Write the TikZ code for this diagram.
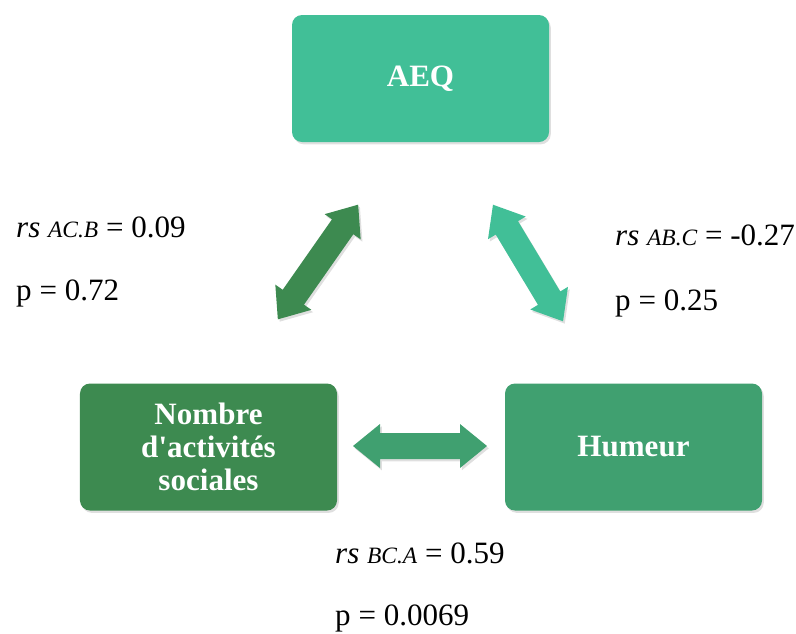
\documentclass[tikz,border=0pt]{standalone}
\usepackage{fontspec}
\setmainfont{Liberation Serif}
\usetikzlibrary{shadows}
\definecolor{vertclair}{HTML}{41BF97}
\definecolor{vertmoyen}{HTML}{40A070}
\definecolor{vertfonce}{HTML}{3D8A50}
\tikzset{
  ombre/.style={drop shadow={opacity=0.25,shadow xshift=1.5pt,shadow yshift=-2pt}},
  boite/.style={rectangle,rounded corners=3mm,minimum width=77.1mm,minimum height=38.1mm,
    text=white,align=center,inner sep=0,ombre,font=\fontsize{26.5}{28.2}\selectfont\bfseries},
  valeur/.style={anchor=base west,inner sep=0,font=\fontsize{26.5}{30}\selectfont}
}
% fleche double epaisse : position, angle, longueur, couleur
\newcommand{\flechedouble}[4]{%
  \begin{scope}[shift={(#1)},rotate=#2]
    \fill[#4,ombre] (-#3/2,0)--(-#3/2+27,22)--(-#3/2+27,13)--(#3/2-27,13)--(#3/2-27,22)
      --(#3/2,0)--(#3/2-27,-22)--(#3/2-27,-13)--(-#3/2+27,-13)--(-#3/2+27,-22)--cycle;
  \end{scope}}
\newcommand{\indice}[1]{{\fontsize{20}{20}\selectfont\itshape #1}}
\begin{document}
\begin{tikzpicture}[x=0.3mm,y=-0.3mm]
  \useasboundingbox (0,0) rectangle (796,633);
  % boites
  \node[boite,fill=vertclair] (aeq) at (420.5,78.5) {AEQ};
  \node[boite,fill=vertfonce] (nombre) at (208.5,447) {Nombre\\d\textquotesingle activités\\sociales};
  \node[boite,fill=vertmoyen] (humeur) at (633.5,447) {Humeur};
  % fleches
  \flechedouble{318,262}{55}{140}{vertfonce}
  \flechedouble{528,263}{-59}{136}{vertclair}
  \flechedouble{420,446}{0}{134}{vertmoyen}
  % coefficients
  \node[valeur] (rAC) at (16,237) {\textit{rs} \indice{AC.B} = 0.09};
  \node[valeur] (pAC) at (16,300) {p = 0.72};
  \node[valeur] (rAB) at (615,245) {\textit{rs} \indice{AB.C} = -0.27};
  \node[valeur] (pAB) at (615,310) {p = 0.25};
  \node[valeur] (rBC) at (335,563) {\textit{rs} \indice{BC.A} = 0.59};
  \node[valeur] (pBC) at (335,625) {p = 0.0069};
\end{tikzpicture}
\end{document}
